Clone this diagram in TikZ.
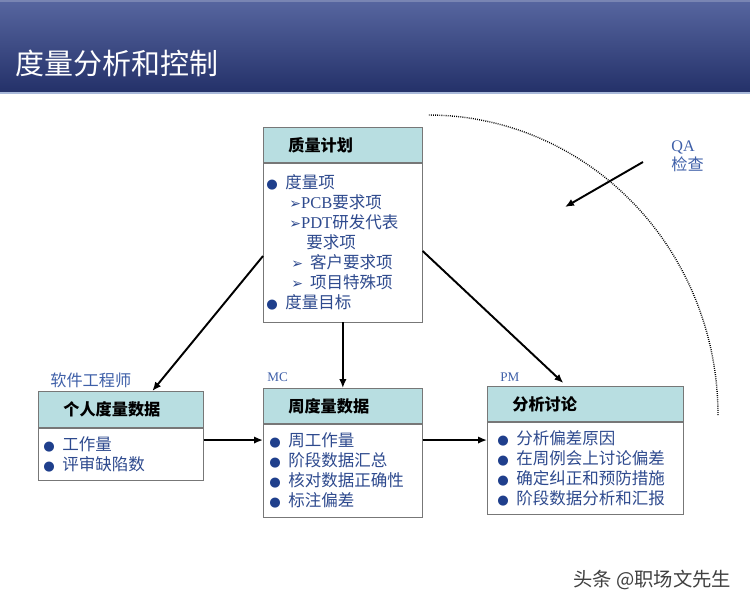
\documentclass[tikz,border=0pt]{standalone}
\usepackage{fontspec}
\setmainfont{Noto Sans CJK SC}
\newfontfamily\latfont{Liberation Serif}
\newfontfamily\symfont{DejaVu Sans}
\usetikzlibrary{positioning,calc}
\usetikzlibrary{arrows.meta}
\tikzset{>={Latex[length=1.8mm,width=1.5mm]}}

\definecolor{hdrteal}{HTML}{B8DEE1}
\definecolor{itemblue}{HTML}{2E4A8E}
\definecolor{bulblue}{HTML}{1F3F8C}
\definecolor{lblblue}{HTML}{3E5FA8}
\definecolor{boxgray}{HTML}{777777}
\definecolor{bandtop}{HTML}{5766A0}
\definecolor{bandbot}{HTML}{243169}
\definecolor{bandline}{HTML}{A9B9DA}

\newcommand\bul{\makebox[3.8mm][l]{\textcolor{bulblue}{\symfont\fontsize{7.5}{7.5}\selectfont ●}}}
\newcommand\arr{\textcolor{itemblue}{\symfont\fontsize{8}{8}\selectfont ➢}}

\tikzset{
  hdr/.style={draw=boxgray, fill=hdrteal, anchor=north west, minimum height=7mm, inner xsep=5mm, align=left, font=\bfseries\fontsize{9.2}{11}\selectfont},
  itembox/.style={draw=boxgray, fill=white, align=left, inner ysep=0pt, text=itemblue, font=\fontsize{9.4}{11.4}\selectfont},
  lbl/.style={text=lblblue, anchor=west, inner sep=0pt, font=\fontsize{9.2}{10.8}\selectfont},
  serlbl/.style={text=lblblue, anchor=west, inner sep=0pt, font=\latfont\fontsize{7.5}{9}\selectfont},
  flow/.style={->, line width=1.1pt},
}

\begin{document}
\begin{tikzpicture}[x=0.02cm,y=-0.02cm]
            \useasboundingbox (0,0) rectangle (750,606);
            \shade[top color=bandtop, bottom color=bandbot] (0,0) rectangle (750,92);
            \draw[bandtop!80!white, line width=0.8pt] (0,1) -- (750,1);
            \draw[bandline, line width=1.2pt] (0,93) -- (750,93);
            \node[anchor=west, text=white, inner sep=0pt, font=\fontsize{16.5}{20}\selectfont] (title) at (15,63) {度量分析和控制};

            \node[hdr, text width=21.8mm] (planhdr) at (263,127) {质量计划};
            \node[itembox, below=0pt of planhdr, minimum height=31.8mm, inner xsep=0.6mm, text width=30.6mm] (planbody) {\bul 度量项\\
              \hspace*{4.6mm}\arr{\latfont PCB}要求项\\
              \hspace*{4.6mm}\arr{\latfont PDT}研发代表\\
              \hspace*{8mm}要求项\\
              \hspace*{5mm}\arr\hspace{1.4mm}客户要求项\\
              \hspace*{5mm}\arr\hspace{1.4mm}项目特殊项\\
              \bul 度量目标};

            \node[lbl] (engr) at (50,380) {软件工程师};
            \node[hdr, minimum height=7.2mm, text width=23mm] (perhdr) at (38,391) {个人度量数据};
            \node[itembox, below=0pt of perhdr, minimum height=10.4mm, inner xsep=1mm, text width=31mm] (perbody) {\bul 工作量\\
              \bul 评审缺陷数};

            \node[serlbl] (mc) at (267,377) {MC};
            \node[hdr, text width=21.8mm] (wkhdr) at (263,388) {周度量数据};
            \node[itembox, below=0pt of wkhdr, minimum height=18.6mm, inner xsep=1.2mm, text width=29.4mm] (wkbody) {\bul 周工作量\\
              \bul 阶段数据汇总\\
              \bul 核对数据正确性\\
              \bul 标注偏差};

            \node[serlbl] (pm) at (500,377) {PM};
            \node[hdr, text width=29.2mm] (anahdr) at (487,386) {分析讨论};
            \node[itembox, below=0pt of anahdr, minimum height=18.4mm, inner xsep=2mm, text width=35.2mm] (anabody) {\bul 分析偏差原因\\
              \bul 在周例会上讨论偏差\\
              \bul 确定纠正和预防措施\\
              \bul 阶段数据分析和汇报};

            \draw[flow] ([yshift=-0.27cm]planbody.west) -- ([xshift=0.63cm]perhdr.north);
            \draw[flow] (planbody.south) -- (wkhdr.north);
            \draw[flow] ([yshift=-0.17cm]planbody.east) -- ([xshift=-0.44cm,yshift=0.06cm]anahdr.north);
            \coordinate (pw) at ([yshift=0.28cm]perbody.east);
            \draw[flow] (pw) -- (pw -| wkbody.west);
            \coordinate (wa) at ([yshift=0.61cm]wkbody.east);
            \draw[flow] (wa) -- (wa -| anabody.west);

            \draw[line width=0.8pt, dash pattern=on 0.5pt off 0.7pt] plot[domain=0:90, samples=80, smooth] ({428+290*cos(\x)},{415-300*sin(\x)});
            \node[lbl, align=left] (qa) at (671,156) {{\latfont QA}\\检查};
            \coordinate (qafrom) at (643,162);
            \coordinate (qato) at (565,207);
            \draw[flow] (qafrom) -- (qato);

            \node[anchor=west, inner sep=0pt, text=black!75, font=\fontsize{11}{13}\selectfont] (mark) at (573,580) {头条 @职场文先生};
        \end{tikzpicture}
\end{document}
